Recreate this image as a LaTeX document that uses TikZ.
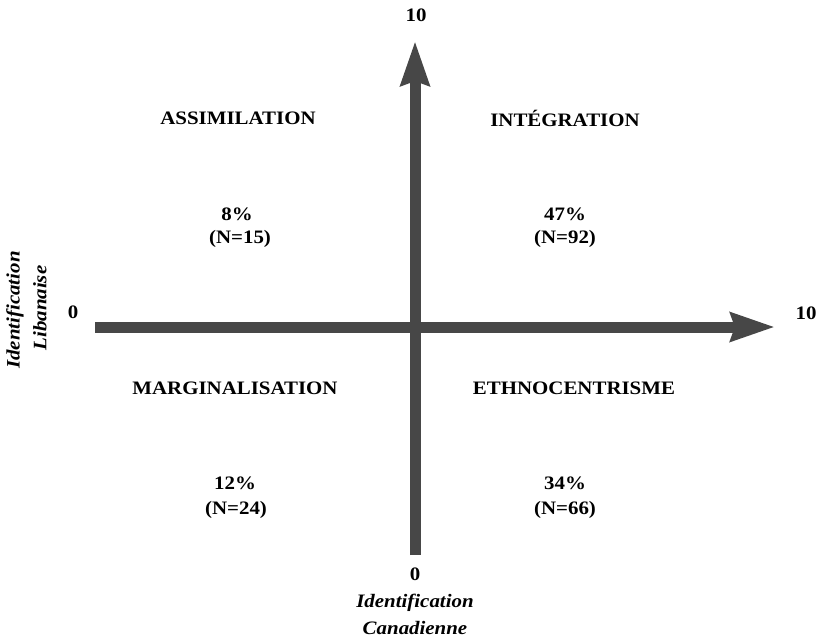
\documentclass[tikz,border=0pt]{standalone}
\usepackage{fontspec}
\setmainfont{Liberation Serif}[FakeStretch=1.1]
\usetikzlibrary{arrows.meta}
\begin{document}
\begin{tikzpicture}[x=1pt,y=-1pt,
  lab/.style={font=\fontsize{19}{22}\selectfont\bfseries, inner sep=0pt, anchor=center},
  axtitle/.style={font=\fontsize{19}{22}\selectfont\bfseries\itshape, inner sep=0pt, align=center},
  axis/.style={line width=11pt, draw=black!72, -{Stealth[length=44pt,width=28pt,inset=4pt]}}]
\useasboundingbox (0,0) rectangle (818,641);
% axes
\coordinate (ybot) at (415,555);
\coordinate (ytop) at (415,41);
\coordinate (xleft) at (95,327);
\coordinate (xright) at (775,327);
\draw[axis] (xleft) -- (xright);
\draw[axis] (ybot) -- (ytop);
% axis labels
\node[lab] (t10) at (416,15) {10};
\node[lab] (r10) at (806,313) {10};
\node[lab] (l0) at (73,312) {0};
\node[lab] (b0) at (415,574) {0};
\node[axtitle] (ican1) at (415,603) {Identification};
\node[axtitle] (ican2) at (415,628) {Canadienne};
\node[axtitle, rotate=90] (ilib1) at (15,310) {Identification};
\node[axtitle, rotate=90] (ilib2) at (40,308) {Libanaise};
% quadrants
\node[lab] (assim) at (238,118) {ASSIMILATION};
\node[lab] (integ) at (565,118) {INTÉGRATION};
\node[lab] (p8) at (237,214) {8\%};
\node[lab] (n15) at (240,239) {(N=15)};
\node[lab] (p47) at (565,214) {47\%};
\node[lab] (n92) at (565,239) {(N=92)};
\node[lab] (marg) at (235,388) {MARGINALISATION};
\node[lab] (ethno) at (574,388) {ETHNOCENTRISME};
\node[lab] (p12) at (235,483) {12\%};
\node[lab] (n24) at (236,510) {(N=24)};
\node[lab] (p34) at (565,483) {34\%};
\node[lab] (n66) at (565,510) {(N=66)};
\end{tikzpicture}
\end{document}
